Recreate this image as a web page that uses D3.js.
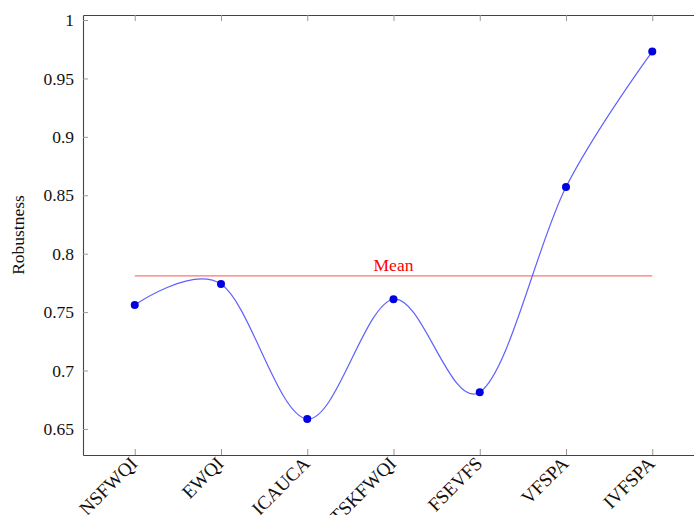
<!DOCTYPE html>
<html>
<head>
<meta charset="utf-8">
<script src="https://cdn.jsdelivr.net/npm/d3@7"></script>
<style>
  body { margin: 0; background: #fff; }
  svg text { font-family: "Liberation Serif", "Times New Roman", serif; fill: #111; }
</style>
</head>
<body>
<div id="chart"></div>
<script>
// data
var categories = ["NSFWQI", "EWQI", "ICAUCA", "TSKFWQI", "FSEVFS", "VFSPA", "IVFSPA"];
var robustness = [0.756, 0.774, 0.6585, 0.761, 0.6815, 0.857, 0.973];
var meanValue = 0.781;
var yTicks = [0.65, 0.7, 0.75, 0.8, 0.85, 0.9, 0.95, 1];
var yTickLabels = ["0.65", "0.7", "0.75", "0.8", "0.85", "0.9", "0.95", "1"];

var W = 694, H = 515;
// plot box (right edge falls outside the picture, as in the original)
var margin = {left: 83, right: 704, top: 15, bottom: 455};
var serif = '"Liberation Serif", "Times New Roman", serif';

var svg = d3.select("#chart")
  .append("svg")
    .attr("width", W)
    .attr("height", H);

var x = d3.scalePoint()
  .domain(categories)
  .range([margin.left, margin.right])
  .padding(0.6);

var y = d3.scaleLinear()
  .domain([0.6277, 1.0043])
  .range([margin.bottom, margin.top]);

// frame + inward ticks
var yAxis = svg.append("g")
  .attr("transform", "translate(" + margin.left + ",0)")
  .call(d3.axisLeft(y).tickValues(yTicks)
    .tickFormat(function(d, i) { return yTickLabels[i]; })
    .tickSizeInner(-5).tickSizeOuter(0).tickPadding(9));

svg.append("g")
  .attr("transform", "translate(" + margin.right + ",0)")
  .call(d3.axisRight(y).tickValues(yTicks).tickFormat("")
    .tickSizeInner(-5).tickSizeOuter(0));

svg.append("g")
  .attr("transform", "translate(0," + margin.bottom + ")")
  .call(d3.axisBottom(x).tickFormat("").tickSizeInner(-6).tickSizeOuter(0));

svg.append("g")
  .attr("transform", "translate(0," + margin.top + ")")
  .call(d3.axisTop(x).tickFormat("").tickSizeInner(-6).tickSizeOuter(0));

svg.selectAll(".domain").attr("stroke", "#444").attr("stroke-width", 1.1);
svg.selectAll(".tick line").attr("stroke", "#999").attr("stroke-width", 1);
yAxis.selectAll("text")
  .style("font-family", serif)
  .style("font-size", "17.5px")
  .style("fill", "#111");

// rotated category labels
svg.selectAll(".xlab")
  .data(categories)
  .enter()
  .append("text")
    .attr("class", "xlab")
    .attr("transform", function(d) { return "translate(" + (x(d) - 1) + "," + (margin.bottom + 5) + ") rotate(-45)"; })
    .attr("text-anchor", "end")
    .attr("dy", "0.35em")
    .style("font-size", "19px")
    .text(function(d) { return d; });

// y title
svg.append("text")
  .attr("transform", "translate(24," + ((margin.top + margin.bottom) / 2) + ") rotate(-90)")
  .attr("text-anchor", "middle")
  .style("font-size", "17.5px")
  .text("Robustness");

// mean line
svg.append("line")
  .attr("x1", x(categories[0]))
  .attr("x2", x(categories[categories.length - 1]))
  .attr("y1", y(meanValue))
  .attr("y2", y(meanValue))
  .attr("stroke", "#ff7575")
  .attr("stroke-width", 1.4);

svg.append("text")
  .attr("x", (x(categories[0]) + x(categories[categories.length - 1])) / 2)
  .attr("y", y(meanValue) - 5)
  .attr("text-anchor", "middle")
  .style("font-size", "17.5px")
  .style("fill", "#ff0000")
  .text("Mean");

// smooth line
var line = d3.line()
  .x(function(d, i) { return x(categories[i]); })
  .y(function(d) { return y(d); })
  .curve(d3.curveCardinal.tension(0));

svg.append("path")
  .datum(robustness)
  .attr("d", line)
  .attr("fill", "none")
  .attr("stroke", "#6060ff")
  .attr("stroke-width", 1.2);

svg.selectAll("circle")
  .data(robustness)
  .enter()
  .append("circle")
    .attr("cx", function(d, i) { return x(categories[i]); })
    .attr("cy", function(d) { return y(d); })
    .attr("r", 4)
    .attr("fill", "#0000e0");
</script>
</body>
</html>
